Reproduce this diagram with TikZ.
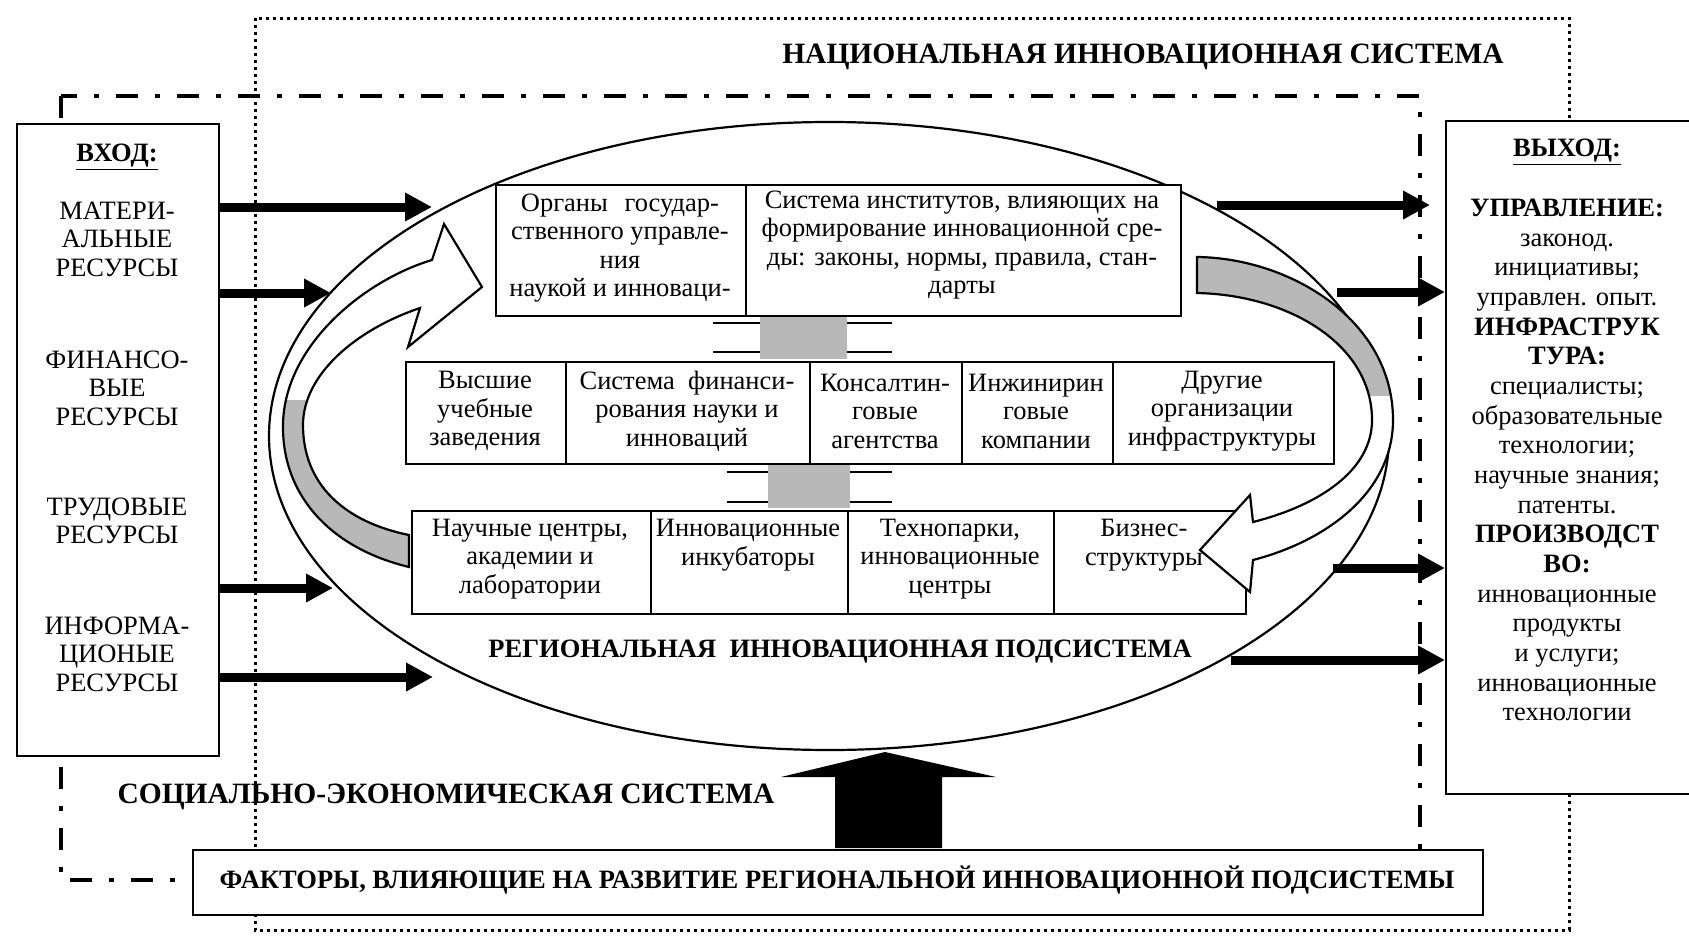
\documentclass[tikz,border=0pt]{standalone}
\usepackage{fontspec}
\setmainfont{Liberation Serif}
\usetikzlibrary{arrows.meta}
\begin{document}
\begin{tikzpicture}[x=1pt,y=-1pt,
  cell/.style={draw,line width=2.4pt,fill=white,inner sep=0pt,anchor=north west},
  txt/.style={align=center,inner sep=0pt,font=\fontsize{26.5}{28.5}\selectfont},
  boldtxt/.style={align=center,inner sep=0pt,font=\fontsize{26.5}{28.5}\selectfont\bfseries},
  bigtitle/.style={inner sep=0pt,font=\fontsize{29.5}{32}\selectfont\bfseries},
  midtitle/.style={inner sep=0pt,font=\fontsize{26.5}{30}\selectfont\bfseries},
  flow/.style={line width=9pt,-{Triangle[length=27pt,width=27pt]}},
  natline/.style={line width=3pt,dash pattern=on 3pt off 4pt},
  socline/.style={line width=4pt,dash pattern=on 22pt off 17pt on 5pt off 17pt},
  curvearrow/.style={line width=2.2pt,line join=miter},
  bandfill/.style={fill=black!28},
  beam/.style={line width=2.5pt},
]
\useasboundingbox (0,0) rectangle (1689,937);

% frames
\draw[natline] (255,18) rectangle (1569,930);
\draw[socline] (61,96) rectangle (1420,880);

% ellipse of the regional subsystem
\draw[line width=2.2pt] (829,436) ellipse [x radius=560pt, y radius=314pt];

% input / output boxes
\node[cell, minimum width=202pt, minimum height=632pt] (in) at (16,123) {};
\node[cell, minimum width=260pt, minimum height=673pt] (out) at (1445,120) {};

% row 1
\node[cell, minimum width=250pt, minimum height=131pt] (r1a) at (495,184) {};
\node[cell, minimum width=435pt, minimum height=131pt] (r1b) at (745,184) {};
% row 2
\node[cell, minimum width=160pt, minimum height=102pt] (r2a) at (405,361) {};
\node[cell, minimum width=244pt, minimum height=102pt] (r2b) at (565,361) {};
\node[cell, minimum width=152pt, minimum height=102pt] (r2c) at (809,361) {};
\node[cell, minimum width=151pt, minimum height=102pt] (r2d) at (961,361) {};
\node[cell, minimum width=221pt, minimum height=102pt] (r2e) at (1112,361) {};
% row 3
\node[cell, minimum width=239pt, minimum height=103pt] (r3a) at (411,510) {};
\node[cell, minimum width=197pt, minimum height=103pt] (r3b) at (650,510) {};
\node[cell, minimum width=206pt, minimum height=103pt] (r3c) at (847,510) {};
\node[cell, minimum width=192pt, minimum height=103pt] (r3d) at (1053,510) {};

% left curved arrow
\def\leftC{(409,567) .. controls (330,548) and (282,495) .. (283,425) .. controls (284,345) and (365,280) .. (432,260) -- (444,224) -- (482,287) -- (408,347) -- (420,308) .. controls (355,330) and (303,375) .. (303,425) .. controls (303,485) and (345,522) .. (409,535) -- cycle}
\fill[white] \leftC;
\begin{scope}
  \clip (250,400) rectangle (420,600);
  \fill[bandfill] \leftC;
\end{scope}
\draw[curvearrow] \leftC;

% right curved arrow
\def\rightC{(1197,257) .. controls (1290,258) and (1393,320) .. (1393,420) .. controls (1393,490) and (1330,540) .. (1253,560) -- (1250,592) -- (1200,550) -- (1250,495) -- (1253,522) .. controls (1320,505) and (1372,470) .. (1372,420) .. controls (1372,345) and (1290,295) .. (1197,293) -- cycle}
\fill[white] \rightC;
\begin{scope}
  \clip (1190,240) rectangle (1400,395);
  \fill[bandfill] \rightC;
\end{scope}
\draw[curvearrow] \rightC;

% links between rows
\fill[bandfill] (760,317) rectangle (847,359);
\draw[beam] (713,323) -- (760,323) (713,352) -- (760,352) (847,323) -- (892,323) (847,352) -- (892,352);
\fill[bandfill] (768,465) rectangle (850,508);
\draw[beam] (727,472) -- (768,472) (727,502) -- (768,502) (850,472) -- (892,472) (850,502) -- (892,502);

% texts of rows
\node[txt] (t1a) at (620,248) {Органы\hspace{10pt} государ-\\ственного управле-\\ния\\наукой и инноваци-};
\node[txt] (t1b) at (962,245) {Система институтов, влияющих на\\формирование инновационной сре-\\ды: законы, нормы, правила, стан-\\дарты};
\node[txt] (t2a) at (485,411) {Высшие\\учебные\\заведения};
\node[txt] (t2b) at (687,411) {Система \ финанси-\\рования науки и\\инноваций};
\node[txt] (t2c) at (885,411) {Консалтин-\\говые\\агентства};
\node[txt] (t2d) at (1036,411) {Инжинирин\\говые\\компании};
\node[txt] (t2e) at (1222,411) {Другие\\организации\\инфраструктуры};
\node[txt] (t3a) at (530,559) {Научные центры,\\академии и\\лаборатории};
\node[txt] (t3b) at (748,545) {Инновационные\\инкубаторы};
\node[txt] (t3c) at (950,559) {Технопарки,\\инновационные\\центры};
\node[txt] (t3d) at (1144,545) {Бизнес-\\структуры};

% input box texts
\node[boldtxt] (inT) at (117,157) {\underline{ВХОД:}};
\node[txt] (inA) at (117,239) {МАТЕРИ-\\АЛЬНЫЕ\\РЕСУРСЫ};
\node[txt] (inB) at (117,388) {ФИНАНСО-\\ВЫЕ\\РЕСУРСЫ};
\node[txt] (inC) at (117,521) {ТРУДОВЫЕ\\РЕСУРСЫ};
\node[txt] (inD) at (117,654) {ИНФОРМА-\\ЦИОНЫЕ\\РЕСУРСЫ};

% output box texts
\node[boldtxt] (outT) at (1567,152) {\underline{ВЫХОД:}};
\node[txt, font=\fontsize{26.5}{29.65}\selectfont] (outB) at (1567,460) {\textbf{УПРАВЛЕНИЕ:}\\законод.\\инициативы;\\управлен. опыт.\\\textbf{ИНФРАСТРУК}\\\textbf{ТУРА:}\\специалисты;\\образовательные\\технологии;\\научные знания;\\патенты.\\\textbf{ПРОИЗВОДСТ}\\\textbf{ВО:}\\инновационные\\продукты\\и услуги;\\инновационные\\технологии};

% input arrows
\coordinate (a1) at (432,207);
\coordinate (a2) at (331,293);
\coordinate (a3) at (333,588);
\coordinate (a4) at (433,677);
\draw[flow] (in.east |- a1) -- (a1);
\draw[flow] (in.east |- a2) -- (a2);
\draw[flow] (in.east |- a3) -- (a3);
\draw[flow] (in.east |- a4) -- (a4);

% output arrows
\coordinate (b1) at (1217,205);
\coordinate (b1e) at (1430,205);
\coordinate (b2) at (1337,292);
\coordinate (b3) at (1333,568);
\coordinate (b4) at (1231,660);
\draw[flow] (b1) -- (b1e);
\draw[flow] (b2) -- (b2 -| out.west);
\draw[flow] (b3) -- (b3 -| out.west);
\draw[flow] (b4) -- (b4 -| out.west);

% factors box and big arrow
\node[cell, minimum width=1290pt, minimum height=65pt] (fac) at (192,849) {};
\node[midtitle] (facT) at (837,880) {ФАКТОРЫ, ВЛИЯЮЩИЕ НА РАЗВИТИЕ РЕГИОНАЛЬНОЙ ИННОВАЦИОННОЙ ПОДСИСТЕМЫ};
\fill (835,848) -- (835,777) -- (781,777) -- (885,752) -- (996,777) -- (942,777) -- (942,848) -- cycle;

% titles
\node[bigtitle] (nat) at (1143,57) {НАЦИОНАЛЬНАЯ ИННОВАЦИОННАЯ СИСТЕМА};
\node[midtitle] (reg) at (840,652) {РЕГИОНАЛЬНАЯ\ \ ИННОВАЦИОННАЯ ПОДСИСТЕМА};
\node[bigtitle] (soc) at (446,797) {СОЦИАЛЬНО-ЭКОНОМИЧЕСКАЯ СИСТЕМА};
\end{tikzpicture}
\end{document}
